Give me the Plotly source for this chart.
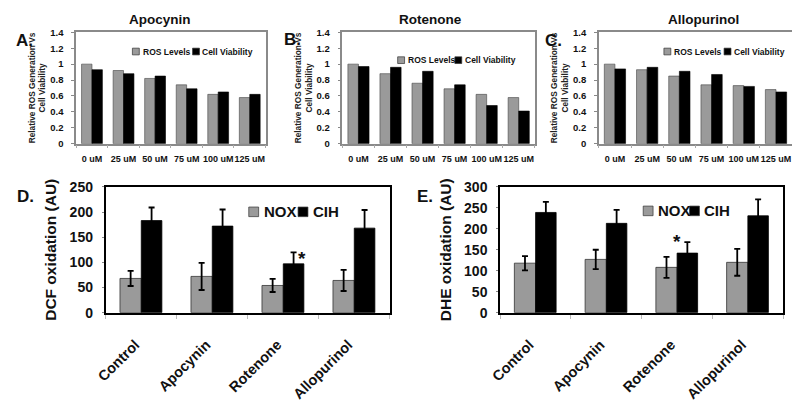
import plotly.graph_objects as go

# ---------------- data ----------------
conc = ["0 uM", "25 uM", "50 uM", "75 uM", "100 uM", "125 uM"]
apo_ros = [1.00, 0.92, 0.82, 0.74, 0.62, 0.58]
apo_cv = [0.93, 0.88, 0.85, 0.69, 0.65, 0.62]
rot_ros = [1.00, 0.88, 0.76, 0.69, 0.62, 0.58]
rot_cv = [0.97, 0.96, 0.91, 0.74, 0.48, 0.41]
allo_ros = [1.00, 0.93, 0.85, 0.74, 0.73, 0.68]
allo_cv = [0.94, 0.96, 0.91, 0.87, 0.72, 0.65]

treat = ["Control", "Apocynin", "Rotenone", "Allopurinol"]
dcf_nox = [68, 72, 54, 64]
dcf_nox_err = [15, 27, 13, 21]
dcf_cih = [183, 172, 97, 168]
dcf_cih_err = [26, 33, 23, 36]
dhe_nox = [118, 127, 108, 120]
dhe_nox_err = [17, 23, 25, 32]
dhe_cih = [239, 213, 142, 231]
dhe_cih_err = [25, 32, 26, 39]

top_series = ["ROS Levels", "Cell Viability"]
bot_series = ["NOX", "CIH"]

GREY = "#9a9a9a"
FONT = "Liberation Sans, Arial, sans-serif"

# page body has an 8px margin, so the figure is shifted by 8px
OFF = 8
W, H = 792, 400


def px_x(p):
    return (p - OFF) / W


def px_y(p):
    return 1 - (p - OFF) / H


fig = go.Figure()

top_panels = [
    ("x", "y", apo_ros, apo_cv),
    ("x2", "y2", rot_ros, rot_cv),
    ("x3", "y3", allo_ros, allo_cv),
]
for xa, ya, ros, cv in top_panels:
    fig.add_trace(go.Bar(x=conc, y=ros, name=top_series[0], xaxis=xa, yaxis=ya,
                         marker=dict(color=GREY, line=dict(color="#444", width=0.6)),
                         offset=-0.33, width=0.33, showlegend=False))
    fig.add_trace(go.Bar(x=conc, y=cv, name=top_series[1], xaxis=xa, yaxis=ya,
                         marker=dict(color="black", line=dict(color="black", width=0.6)),
                         offset=0.0, width=0.33, showlegend=False))

bottom_panels = [
    ("x4", "y4", dcf_nox, dcf_nox_err, dcf_cih, dcf_cih_err),
    ("x5", "y5", dhe_nox, dhe_nox_err, dhe_cih, dhe_cih_err),
]
for xa, ya, nox, noxe, cih, cihe in bottom_panels:
    fig.add_trace(go.Bar(x=treat, y=nox, name=bot_series[0], xaxis=xa, yaxis=ya,
                         marker=dict(color=GREY, line=dict(color="#333", width=0.8)),
                         error_y=dict(type="data", array=noxe, color="black", thickness=1.8, width=3),
                         offset=-0.30, width=0.30, showlegend=False))
    fig.add_trace(go.Bar(x=treat, y=cih, name=bot_series[1], xaxis=xa, yaxis=ya,
                         marker=dict(color="black", line=dict(color="black", width=0.8)),
                         error_y=dict(type="data", array=cihe, color="black", thickness=1.8, width=3),
                         offset=0.0, width=0.29, showlegend=False))

# --------------- axes ---------------
layout = dict(
    width=W, height=H, margin=dict(l=0, r=0, t=0, b=0),
    paper_bgcolor="white", plot_bgcolor="white",
    barmode="group", showlegend=False,
)

top_dom = [px_y(141), px_y(25)]
top_x = [(66, 258), (336, 531), (596, 792)]
for (l, r), n in zip(top_x, ["", "2", "3"]):
    layout["xaxis" + n] = dict(
        domain=[px_x(l), px_x(r)], anchor="y" + n, type="category",
        showline=True, linecolor="#8a8a8a", linewidth=1.5, mirror=True,
        ticks="outside", tickson="boundaries", ticklen=3, tickcolor="#aaa",
        tickangle=0,
        tickfont=dict(family=FONT, size=9, color="#111", weight="bold"),
        ticklabelstandoff=6, showgrid=False, fixedrange=True,
    )
    layout["yaxis" + n] = dict(
        domain=top_dom, anchor="x" + n, range=[0, 1.4], dtick=0.2,
        showline=True, linecolor="#8a8a8a", linewidth=1.5, mirror=True,
        ticks="outside", ticklen=3, tickcolor="#888",
        tickfont=dict(family=FONT, size=9.5, color="#111", weight="bold"),
        ticklabelstandoff=6, showgrid=False, zeroline=False,
        title=dict(text="Relative ROS Generation Vs<br>Cell Viability",
                   font=dict(family=FONT, size=8.3, color="#222", weight="bold"),
                   standoff=3),
    )

bot_dom = [px_y(317), px_y(186)]
bot_x = [(96, 384), (496, 783)]
bot_range = [[0, 250], [0, 300]]
bot_title = ["DCF oxidation (AU)", "DHE oxidation (AU)"]
for (l, r), n, rg, tt in zip(bot_x, ["4", "5"], bot_range, bot_title):
    layout["xaxis" + n] = dict(
        domain=[px_x(l), px_x(r)], anchor="y" + n, type="category",
        showline=True, linecolor="black", linewidth=2, mirror=True,
        ticks="outside", tickson="boundaries", ticklen=4, tickcolor="#bbb",
        tickangle=-45,
        tickfont=dict(family=FONT, size=14.5, color="#111", weight="bold"),
        ticklabelstandoff=16, ticklabelshift=-6, showgrid=False, fixedrange=True,
    )
    layout["yaxis" + n] = dict(
        domain=bot_dom, anchor="x" + n, range=rg, dtick=50,
        showline=True, linecolor="black", linewidth=2, mirror=True,
        ticks="outside", ticklen=2, tickcolor="#888",
        tickfont=dict(family=FONT, size=14, color="#111", weight="bold"),
        ticklabelstandoff=6, showgrid=False, zeroline=False,
        title=dict(text=tt, font=dict(family=FONT, size=15.5, color="#111", weight="bold"),
                   standoff=9),
    )

annotations = []
shapes = []


def add_legend(names, sw_left, txt_left, yc, size, fsize):
    colors = [GREY, "black"]
    for nm, sl, tl, col in zip(names, sw_left, txt_left, colors):
        shapes.append(dict(type="rect", xref="paper", yref="paper",
                           x0=px_x(sl), x1=px_x(sl + size),
                           y0=px_y(yc + size / 2), y1=px_y(yc - size / 2),
                           fillcolor=col, line=dict(color="#333", width=0.7)))
        annotations.append(dict(text=nm, x=px_x(tl), y=px_y(yc), xref="paper", yref="paper",
                                showarrow=False, xanchor="left", yanchor="middle", borderpad=0,
                                font=dict(family=FONT, size=fsize, color="#111", weight="bold")))


add_legend(top_series, (123, 184), (133, 193), 45, 7, 8.5)
add_legend(top_series, (392, 450), (401, 459), 54, 7, 8.5)
add_legend(top_series, (662, 723), (671, 732), 45, 7, 8.5)
add_legend(bot_series, (241, 291), (255, 305), 212, 10, 15)
add_legend(bot_series, (641, 688), (655, 702), 211, 10, 15)

for txt, cx in [("Apocynin", 151), ("Rotenone", 425), ("Allopurinol", 702)]:
    annotations.append(dict(text=txt, x=px_x(cx), y=px_y(12), xref="paper", yref="paper",
                            showarrow=False, xanchor="center", yanchor="middle",
                            font=dict(family=FONT, size=13.5, color="#111", weight="bold")))
for txt, cx, cy in [("A.", 14, 33), ("B.", 285, 32), ("C.", 550, 33), ("D.", 15, 196), ("E.", 420, 196)]:
    annotations.append(dict(text=txt, x=px_x(cx), y=px_y(cy), xref="paper", yref="paper",
                            showarrow=False, xanchor="center", yanchor="middle",
                            font=dict(family=FONT, size=17, color="#111", weight="bold")))
# significance stars
annotations.append(dict(text="*", x="Rotenone", y=dcf_cih[2] + dcf_cih_err[2], xref="x4", yref="y4",
                        xshift=19, yshift=-6, showarrow=False, yanchor="middle",
                        font=dict(family=FONT, size=19, color="#111", weight="bold")))
annotations.append(dict(text="*", x="Rotenone", y=dhe_cih[2] + dhe_cih_err[2], xref="x5", yref="y5",
                        xshift=0, yshift=1, showarrow=False, yanchor="middle",
                        font=dict(family=FONT, size=19, color="#111", weight="bold")))
layout["annotations"] = annotations
layout["shapes"] = shapes

fig.update_layout(**layout)
fig.write_html("out.html")
